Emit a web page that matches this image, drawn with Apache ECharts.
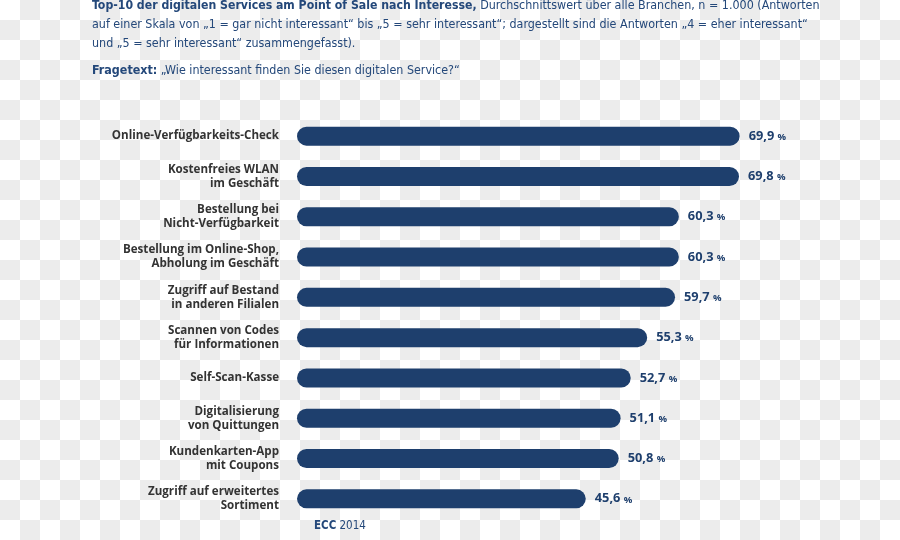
<!DOCTYPE html>
<html><head><meta charset="utf-8">
<script src="https://cdn.jsdelivr.net/npm/echarts@6/dist/echarts.min.js"></script>
<style>
html,body{margin:0;padding:0;}
body{background-color:#fff;background-image:conic-gradient(#ececec 0 25%,#fff 0 50%,#ececec 0 75%,#fff 0 100%);background-size:40px 40px;}
#c{width:900px;height:540px;}
</style></head>
<body><div id="c"></div>
<script>
const categories = [
  'Online-Verfügbarkeits-Check',
  'Kostenfreies WLAN\nim Geschäft',
  'Bestellung bei\nNicht-Verfügbarkeit',
  'Bestellung im Online-Shop,\nAbholung im Geschäft',
  'Zugriff auf Bestand\nin anderen Filialen',
  'Scannen von Codes\nfür Informationen',
  'Self-Scan-Kasse',
  'Digitalisierung\nvon Quittungen',
  'Kundenkarten-App\nmit Coupons',
  'Zugriff auf erweitertes\nSortiment'
];
const values = [69.9, 69.8, 60.3, 60.3, 59.7, 55.3, 52.7, 51.1, 50.8, 45.6];
const titleBold = 'Top-10 der digitalen Services am Point of Sale nach Interesse,';
const titleRest = [
  ' Durchschnittswert über alle Branchen, n = 1.000 (Antworten',
  'auf einer Skala von „1 = gar nicht interessant“ bis „5 = sehr interessant“; dargestellt sind die Antworten „4 = eher interessant“',
  'und „5 = sehr interessant“ zusammengefasst).'
];
const questionLabel = 'Fragetext:';
const questionText = ' „Wie interessant finden Sie diesen digitalen Service?“';
const sourceBold = 'ECC';
const sourceText = ' 2014';

const BLUE = '#1e3f6d';
const TBLUE = '#24487a';
const FONT = '"Liberation Sans Narrow","DejaVu Sans Condensed",Roboto,sans-serif';
const LFONT = '"Open Sans",sans-serif';

const chart = echarts.init(document.getElementById('c'), null, {renderer:'canvas'});
chart.setOption({
  backgroundColor: 'transparent',
  animation: false,
  grid: {left: 297, right: 96.4, top: 116, bottom: 21, containLabel: false},
  xAxis: {type: 'value', min: 0, max: 80, show: false},
  yAxis: {
    type: 'category', data: categories, inverse: true,
    axisLine: {show: false}, axisTick: {show: false},
    axisLabel: {
      margin: 18, align: 'right', color: '#333',
      fontFamily: LFONT, fontWeight: 'bold', fontSize: 11.6, lineHeight: 14
    }
  },
  series: [{
    type: 'bar', data: values, barWidth: 19,
    itemStyle: {color: BLUE, borderRadius: 9.5},
    label: {
      show: true, position: 'right', distance: 9,
      formatter: p => '{v|' + p.value.toFixed(1).replace('.', ',') + '} {p|%}',
      rich: {
        v: {fontFamily: LFONT, fontWeight: 'bold', fontSize: 12.8, color: BLUE},
        p: {fontFamily: LFONT, fontWeight: 'bold', fontSize: 9.5, color: BLUE, padding:[2,0,0,0]}
      }
    }
  }],
  graphic: [
    {
      type: 'text', left: 92, top: 0,
      style: {
        text: '{b|' + titleBold + '}{n|' + titleRest[0] + '}\n{n|' + titleRest[1] + '}\n{n|' + titleRest[2] + '}',
        rich: {
          b: {fontFamily: FONT, fontWeight: 'bold', fontSize: 12.2, fill: TBLUE, lineHeight: 18.7},
          n: {fontFamily: FONT, fontSize: 12.4, fill: TBLUE, lineHeight: 18.7}
        }
      }
    },
    {
      type: 'text', left: 92, top: 65,
      style: {
        text: '{b|' + questionLabel + '}{n|' + questionText + '}',
        rich: {
          b: {fontFamily: FONT, fontWeight: 'bold', fontSize: 12.4, fill: TBLUE, lineHeight: 18},
          n: {fontFamily: FONT, fontSize: 12.4, fill: TBLUE, lineHeight: 18}
        }
      }
    },
    {
      type: 'text', left: 314, top: 520,
      style: {
        text: '{b|' + sourceBold + '}{n|' + sourceText + '}',
        rich: {
          b: {fontFamily: FONT, fontWeight: 'bold', fontSize: 11.5, fill: TBLUE},
          n: {fontFamily: FONT, fontSize: 11.5, fill: TBLUE}
        }
      }
    }
  ]
});
</script>
</body></html>
